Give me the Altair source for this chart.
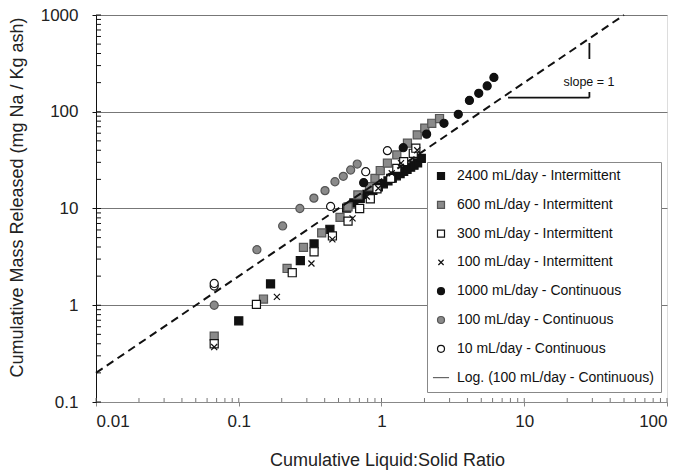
import altair as alt
import pandas as pd

FONT = "Liberation Sans"

series_names = [
    "2400 mL/day - Intermittent",
    "600 mL/day - Intermittent",
    "300 mL/day - Intermittent",
    "100 mL/day - Intermittent",
    "1000 mL/day - Continuous",
    "100 mL/day - Continuous",
    "10 mL/day - Continuous",
    "Log. (100 mL/day - Continuous)",
]

s2400_x = [0.10, 0.167, 0.27, 0.337, 0.435, 0.57, 0.64, 0.71, 0.79, 0.87, 0.95, 1.03, 1.11, 1.19,
           1.27, 1.35, 1.43, 1.51, 1.60, 1.69, 1.79, 1.90]
s2400_y = [0.69, 1.66, 2.9, 4.3, 6.1, 10.1, 11.4, 12.7, 14.0, 15.4, 16.7, 18.0, 19.3, 20.6,
           21.8, 23.0, 24.2, 25.4, 26.7, 28.0, 29.6, 33.0]

s600_x = [0.0673, 0.149, 0.218, 0.284, 0.381, 0.512, 0.583, 0.683, 0.823, 0.90, 0.98, 1.10, 1.28,
          1.52, 1.78, 2.01, 2.25, 2.55]
s600_y = [0.48, 1.16, 2.4, 3.96, 5.6, 8.1, 10.4, 13.8, 16.8, 20.5, 24.7, 29.4, 35.8,
          47.3, 57.7, 67.6, 76.0, 85.1]

s300_x = [0.0673, 0.133, 0.237, 0.337, 0.453, 0.583, 0.703, 0.835, 0.93, 1.16, 1.28, 1.43, 1.67, 1.74]
s300_y = [0.40, 1.02, 2.17, 3.57, 5.2, 7.4, 10.0, 12.6, 16.0, 20.5, 26.0, 30.5, 37.2, 42.0]

s100i_x = [0.0673, 0.185, 0.323, 0.453, 0.627, 0.789, 0.95, 1.18, 1.37, 1.78]
s100i_y = [0.37, 1.22, 2.7, 4.8, 7.9, 13.3, 16.2, 23.1, 29.4, 40.0]

s1000_x = [0.75, 1.42, 2.07, 2.74, 3.45, 4.13, 4.80, 5.50, 6.13]
s1000_y = [18.5, 42.5, 58.7, 76.0, 94.0, 131.0, 155.0, 185.0, 226.0]

s100c_x = [0.0673, 0.134, 0.203, 0.268, 0.336, 0.402, 0.472, 0.540, 0.608, 0.676]
s100c_y = [1.0, 3.75, 6.6, 10.0, 12.8, 15.3, 18.9, 21.5, 25.0, 28.8]

s10c_x = [0.0673, 0.0673, 0.44, 0.775, 1.10]
s10c_y = [1.58, 1.68, 10.5, 24.0, 39.6]

slope_line_x = [0.01, 50]
slope_line_y = [0.2, 1000]

tri_x = [7.7, 28.6, 28.6]
tri_x2 = [28.6, 28.6, 28.6]
tri_y = [140, 140, 351]
tri_y2 = [140, 160, 514]

slope_label = "slope = 1"
slope_label_x = [28.4]
slope_label_y = [203]

x_major = [0.01, 0.1, 1, 10, 100]
y_major = [0.1, 1, 10, 100, 1000]
x_minor = [k * 10.0 ** d for d in (-2, -1, 0, 1) for k in range(1, 10)] + [100]
y_minor = [k * 10.0 ** d for d in (-1, 0, 1, 2) for k in range(1, 10)] + [1000]

groups = [
    (series_names[0], s2400_x, s2400_y),
    (series_names[1], s600_x, s600_y),
    (series_names[2], s300_x, s300_y),
    (series_names[3], s100i_x, s100i_y),
    (series_names[4], s1000_x, s1000_y),
    (series_names[5], s100c_x, s100c_y),
    (series_names[6], s10c_x, s10c_y),
]
rows = []
for name, xs, ys in groups:
    for xv, yv in zip(xs, ys):
        rows.append({"series": name, "ratio": xv, "mass": yv})
df = pd.DataFrame(rows)

shape_range = ["square", "square", "square",
               "M-0.75,-0.75L0.75,0.75M0.75,-0.75L-0.75,0.75",
               "circle", "circle", "circle", "M-2.3,0H2.3"]
fill_range = ["#111111", "#8a8a8a", "#ffffff", "transparent",
              "#111111", "#8a8a8a", "#ffffff", "transparent"]
stroke_range = ["#111111", "#555555", "#111111", "#111111",
                "#111111", "#555555", "#111111", "#666666"]

xscale = alt.Scale(type="log", domain=[0.01, 100])
yscale = alt.Scale(type="log", domain=[0.1, 1000])

xaxis = alt.Axis(
    values=x_major, format="~g", orient="bottom", grid=False,
    domainColor="#888888", tickColor="#888888", tickSize=4,
    labelFontSize=17, labelFont=FONT, labelColor="#222222", labelPadding=7,
    title="Cumulative Liquid:Solid Ratio", titleFont=FONT, titleFontSize=18,
    titleFontWeight="normal", titleColor="#222222",
    titleX=291, titleY=58, titleBaseline="middle", titleAlign="center",
)
yaxis = alt.Axis(
    values=y_major, format="~g", orient="left", grid=True,
    gridColor="#777777", gridWidth=1,
    domainColor="#111111", tickColor="#111111", tickSize=4,
    labelFontSize=17, labelFont=FONT, labelColor="#222222", labelPadding=14,
    title="Cumulative Mass Released (mg Na / Kg ash)", titleFont=FONT, titleFontSize=18,
    titleFontWeight="normal", titleColor="#222222",
    titleX=-79, titleY=182, titleBaseline="middle", titleAlign="center", titleAngle=270,
)

leg = alt.Legend(
    title=None, orient="none", legendX=331, legendY=147, direction="vertical",
    fillColor="white", strokeColor="#888888", padding=7,
    labelFontSize=14, labelFont=FONT, labelColor="#111111", labelLimit=400,
    symbolSize=49, symbolStrokeWidth=1.2, rowPadding=14.8, labelOffset=9,
)

points = alt.Chart(df).mark_point(filled=True, opacity=1, size=65, strokeWidth=1.2).encode(
    x=alt.X("ratio:Q", scale=xscale, axis=xaxis),
    y=alt.Y("mass:Q", scale=yscale, axis=yaxis),
    shape=alt.Shape("series:N", scale=alt.Scale(domain=series_names, range=shape_range), legend=leg),
    fill=alt.Fill("series:N", scale=alt.Scale(domain=series_names, range=fill_range), legend=leg),
    stroke=alt.Stroke("series:N", scale=alt.Scale(domain=series_names, range=stroke_range), legend=leg),
)

# minor (inside) ticks on the y axis and the x axis
ytick_df = pd.DataFrame({"mass": y_minor})
yticks = alt.Chart(ytick_df).mark_rule(color="#111111", strokeWidth=1).encode(
    y=alt.Y("mass:Q", scale=yscale, axis=yaxis),
    x=alt.value(0), x2=alt.value(5),
)
xtick_df = pd.DataFrame({"ratio": x_minor})
xticks = alt.Chart(xtick_df).mark_rule(color="#777777", strokeWidth=1).encode(
    x=alt.X("ratio:Q", scale=xscale, axis=xaxis),
    y=alt.value(383), y2=alt.value(387),
)

line_df = pd.DataFrame({"ratio": slope_line_x, "mass": slope_line_y})
dashed = alt.Chart(line_df).mark_line(strokeDash=[8, 5], strokeWidth=2, color="#111111").encode(
    x=alt.X("ratio:Q", scale=xscale, axis=xaxis),
    y=alt.Y("mass:Q", scale=yscale, axis=yaxis),
)

tri_df = pd.DataFrame({"ratio": tri_x, "ratio2": tri_x2, "mass": tri_y, "mass2": tri_y2})
tri = alt.Chart(tri_df).mark_rule(strokeWidth=1.8, color="#111111").encode(
    x=alt.X("ratio:Q", scale=xscale, axis=xaxis),
    x2="ratio2:Q",
    y=alt.Y("mass:Q", scale=yscale, axis=yaxis),
    y2="mass2:Q",
)

lab_df = pd.DataFrame({"ratio": slope_label_x, "mass": slope_label_y, "t": [slope_label]})
label = alt.Chart(lab_df).mark_text(font=FONT, fontSize=12.5, color="#111111",
                                    align="center", baseline="middle").encode(
    x=alt.X("ratio:Q", scale=xscale, axis=xaxis),
    y=alt.Y("mass:Q", scale=yscale, axis=yaxis),
    text="t:N",
)

chart = alt.layer(points, yticks, xticks, dashed, tri, label).properties(
    width=571, height=387,
    autosize=alt.AutoSizeParams(type="none"),
    padding={"left": 96, "top": 15, "right": 33, "bottom": 69},
).configure_view(stroke="#888888", strokeWidth=1).configure(background="white")

chart.save("out.html", embed_options={"renderer": "svg", "actions": False})
